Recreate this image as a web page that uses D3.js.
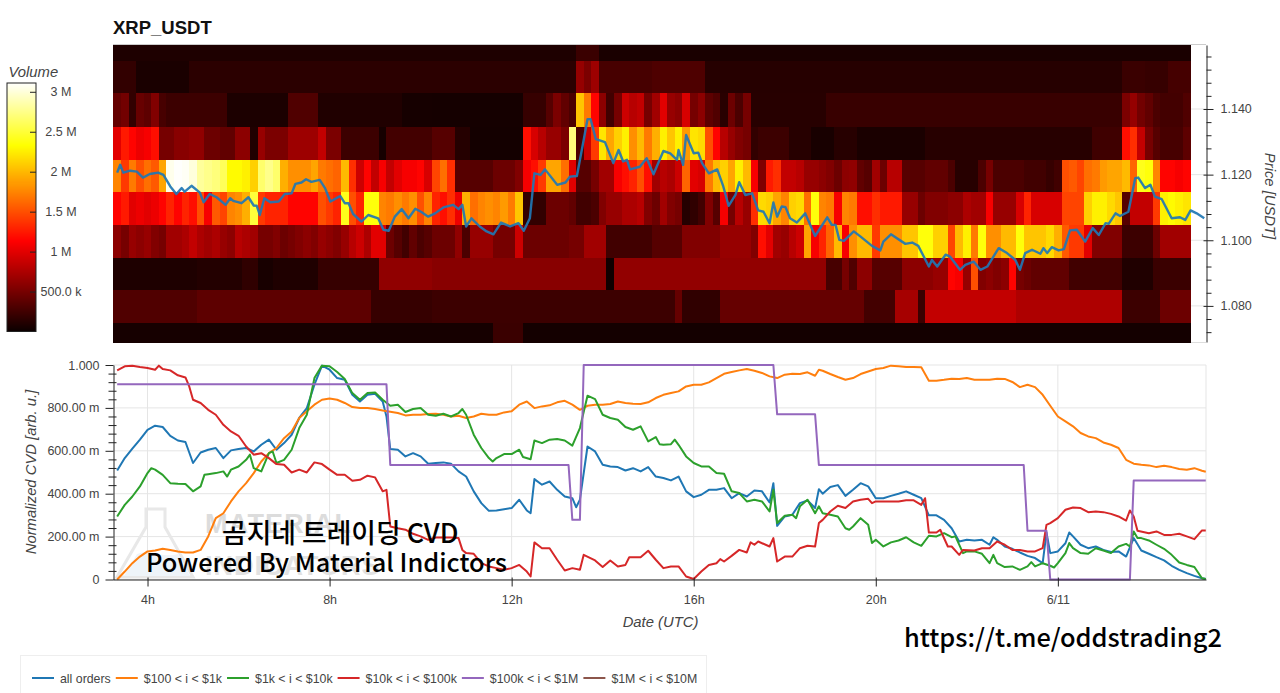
<!DOCTYPE html>
<html>
<head>
<meta charset="utf-8">
<script src="https://d3js.org/d3.v7.min.js"></script>
<style>
html,body{margin:0;padding:0;background:#fff;overflow:hidden}
svg{display:block}
text{font-family:"Liberation Sans",Arial,sans-serif}
.tick text{fill:#444;font-size:12.5px}
.ax-title{fill:#444;font-size:14.8px;font-style:italic}
</style>
</head>
<body>
<svg id="chart" width="1280" height="693"></svg>
<script>
// ---------- data ----------
const title = "XRP_USDT";
const seriesNames = ["all orders","$100 < i < $1k","$1k < i < $10k","$10k < i < $100k","$100k < i < $1M","$1M < i < $10M"];
const seriesColors = ["#1f77b4","#ff7f0e","#2ca02c","#d62728","#9467bd","#8c564b"];
const priceTicksMajor = [1.08,1.10,1.12,1.14];
const cvdTicksMajor = [0,200,400,600,800,1000];
const hourTicks = [4,8,12,16,20,24];
const volumeTicks = [500,1000,1500,2000,2500,3000];

// Price bin edges, bottom to top, and the volume profile (in thousands) of each
// bin from the highest price down. Entries are a single 10-minute column or [columns, volume].
const priceEdges = [1.0690,1.0748,1.0847,1.0947,1.1047,1.1146,1.1245,1.1346,1.1448,1.1547,1.1595];
const volTop0 = [[61,90],[3,220],[78,70]];
const volTop1 = [[3,180],[7,70],[51,150],640,520,680,[7,280],[7,310],[55,125],[3,220],[3,200],[3,270]];
const volTop2 = [420,480,180,430,380,550,280,[8,230],[8,80],[4,320],[11,100],[4,50],[12,45],[3,200],350,520,400,300,2050,1700,1150,600,250,500,900,800,850,500,700,1000,650,600,950,500,600,380,320,140,450,300,500,[10,130],[39,210],520,640,480,400,300,[3,260],320];
const volTop3 = [1000,1250,1150,1050,1100,1200,[2,500],[2,580],[2,620],[2,450],[2,400],[2,600],100,650,[3,520],[4,680],850,[2,520],[5,230],50,[6,260],[3,350],[2,120],[7,40],1200,950,800,650,650,520,2700,300,900,1400,2200,1900,2100,2250,1800,2000,1700,1950,2250,2050,2250,1850,2200,2150,1500,1150,800,650,550,500,180,[4,230],[3,130],[3,60],[3,130],[9,70],[22,130],[4,240],1200,1350,850,500,350,[3,280],380];
const volMid4 = [1750,1400,1700,1500,1650,1550,1900,3050,3100,3080,3000,2800,2750,2700,2600,2300,2300,2250,2100,2650,2750,2650,1950,1800,1800,1800,1900,1700,1650,1600,2000,1350,900,1150,850,1100,850,1000,1100,1100,1150,950,1450,1650,1350,[5,350],[3,450],550,1100,1200,1400,1900,1900,1650,1000,350,350,500,700,700,1100,1200,1300,1500,1200,700,800,750,900,1600,1000,950,1700,2000,2100,1900,2250,2000,1100,550,1250,1350,850,850,800,650,650,600,550,450,600,620,400,350,700,450,800,800,350,350,350,400,400,400,300,130,130,130,300,500,300,300,300,300,250,250,250,200,250,1500,1550,1450,1650,1700,1850,1900,1900,2000,1600,2400,2350,1750,1150,1150,1100,1150];
const volMid5 = [1150,1250,1000,1050,1000,1050,1150,1300,1150,1300,1200,1500,1100,1550,1450,1750,1800,1950,2500,1400,1300,1300,1300,1150,1150,1150,1150,1500,1400,1300,2400,1500,1300,2350,2350,1750,1700,1800,1700,1800,1500,1750,1300,1200,1350,1050,1950,1650,1750,1800,1750,1850,1700,2050,180,180,180,450,450,450,400,250,250,300,550,650,650,750,750,800,550,450,700,550,500,120,170,250,550,350,1100,500,800,650,1350,2150,2100,1900,1750,2100,2150,1650,2350,1750,1700,1100,1750,1700,1200,1200,1350,1250,1250,1250,650,650,450,550,550,550,600,600,750,700,700,1100,650,650,650,950,1300,950,950,950,950,1450,1450,1450,2100,2250,2250,2150,2050,350,850,850,850,1400,2250,2300,2250,2200];
const volMid6 = [600,500,650,600,650,550,500,700,700,750,850,750,700,750,650,600,800,750,700,500,500,550,450,500,550,600,550,650,600,550,650,800,900,750,1000,1000,450,350,250,400,300,350,[3,450],620,300,[3,650],[3,500],900,[6,450],[2,500],[3,700],[6,250],[4,350],[5,550],[4,650],550,1200,1000,700,650,800,900,1900,1100,1300,1600,2000,1100,1800,2000,2000,1400,1800,1800,1800,2050,2050,2350,2350,2100,2100,1450,2000,2250,1700,2350,1800,1800,2000,2000,2350,2050,2050,2050,2150,1950,1550,1400,1400,1000,[4,550],[4,230],450,[4,700]];
const volLow7 = [[11,90],[6,110],[2,170],[2,60],[6,95],[8,200],[7,620],[23,580],20,[28,630],280,280,500,320,600,600,350,350,350,350,600,600,600,600,650,650,1150,1100,650,1500,550,600,550,600,1150,500,450,[5,400],[7,250],[4,100],[5,220]];
const volLow8 = [[11,320],[23,380],[8,200],[32,230],420,[5,170],[18,420],420,[4,260],[3,720],230,[12,850],[14,760],[5,230],[4,450]];
const volBottom9 = [[50,50],[4,220],[88,40]];
const volumeRows = [volTop0,volTop1,volTop2,volTop3,volMid4,volMid5,volMid6,volLow7,volLow8,volBottom9];

// Price, as [minute of 10 June UTC, USDT]
const price = [[200,1.1206],[204,1.1230],[208,1.1206],[217,1.1212],[226,1.1209],[234,1.1191],[243,1.1202],[254,1.1206],[261,1.1199],[270,1.1164],[278,1.1141],[285,1.1159],[289,1.1148],[298,1.1166],[309,1.1145],[314,1.1116],[322,1.1141],[331,1.1131],[343,1.1108],[349,1.1128],[353,1.1120],[364,1.1113],[373,1.1131],[380,1.1106],[384,1.1105],[388,1.1077],[394,1.1128],[402,1.1116],[413,1.1118],[421,1.1141],[430,1.1143],[435,1.1172],[443,1.1176],[449,1.1186],[456,1.1178],[467,1.1184],[474,1.1159],[481,1.1118],[485,1.1123],[494,1.1135],[500,1.1113],[505,1.1113],[511,1.1080],[522,1.1057],[531,1.1077],[544,1.1067],[551,1.1032],[558,1.1029],[566,1.1072],[575,1.1095],[584,1.1067],[593,1.1096],[601,1.1086],[610,1.1072],[619,1.1082],[630,1.1100],[643,1.1108],[650,1.1095],[655,1.1108],[660,1.1042],[667,1.1067],[678,1.1042],[687,1.1027],[696,1.1018],[706,1.1054],[718,1.1042],[729,1.1052],[736,1.1029],[744,1.1067],[750,1.1204],[758,1.1199],[764,1.1216],[780,1.1169],[791,1.1176],[797,1.1194],[806,1.1196],[815,1.1306],[820,1.1369],[824,1.1369],[831,1.1308],[843,1.1299],[854,1.1235],[861,1.1275],[867,1.1240],[872,1.1245],[876,1.1216],[889,1.1224],[898,1.1250],[907,1.1201],[920,1.1272],[929,1.1265],[938,1.1245],[940,1.1275],[946,1.1230],[950,1.1321],[960,1.1265],[966,1.1267],[971,1.1235],[980,1.1204],[991,1.1216],[999,1.1164],[1006,1.1105],[1015,1.1138],[1020,1.1177],[1028,1.1138],[1037,1.1143],[1045,1.1091],[1052,1.1087],[1060,1.1052],[1065,1.1115],[1070,1.1072],[1076,1.1103],[1081,1.1101],[1087,1.1067],[1096,1.1054],[1107,1.1082],[1120,1.1013],[1136,1.1070],[1142,1.1047],[1147,1.1047],[1152,1.1001],[1158,1.0998],[1171,1.1027],[1180,1.1011],[1195,1.0983],[1206,1.0969],[1210,1.0996],[1220,1.1018],[1239,1.0989],[1248,1.0993],[1256,1.0983],[1270,1.0920],[1274,1.0940],[1281,1.0920],[1292,1.0956],[1298,1.0950],[1311,1.0910],[1318,1.0925],[1329,1.0935],[1338,1.0910],[1347,1.0920],[1362,1.0976],[1373,1.0961],[1384,1.0940],[1390,1.0910],[1397,1.0961],[1406,1.0971],[1417,1.0959],[1421,1.0976],[1426,1.0961],[1432,1.0979],[1441,1.0969],[1448,1.0973],[1456,1.1030],[1465,1.1032],[1476,1.0996],[1486,1.1037],[1494,1.1016],[1503,1.1052],[1507,1.1050],[1516,1.1082],[1522,1.1074],[1533,1.1087],[1542,1.1189],[1546,1.1191],[1555,1.1159],[1562,1.1169],[1568,1.1133],[1577,1.1125],[1590,1.1067],[1601,1.1070],[1608,1.1062],[1615,1.1091],[1623,1.1082],[1633,1.1067]];

// Normalized CVD per order size, as [minute, milli-units]
const cvdAll = [[200,508],[210,566],[220,610],[230,652],[240,698],[250,717],[260,711],[270,670],[280,648],[290,641],[300,543],[310,592],[320,605],[330,613],[340,566],[350,602],[360,608],[370,613],[380,597],[390,628],[400,652],[410,605],[420,636],[430,675],[440,753],[450,799],[460,908],[470,997],[480,978],[490,939],[500,931],[510,861],[520,830],[530,861],[540,866],[550,830],[555,760],[560,608],[570,605],[580,574],[590,589],[600,574],[610,540],[620,543],[630,546],[640,540],[650,504],[660,480],[670,411],[680,356],[690,320],[700,322],[710,328],[720,333],[730,372],[740,322],[745,309],[750,468],[760,442],[770,457],[780,418],[790,387],[800,379],[805,337],[810,372],[820,620],[830,597],[840,535],[850,527],[860,524],[870,508],[880,519],[890,504],[900,524],[910,480],[920,473],[930,462],[940,480],[950,411],[960,384],[970,395],[980,418],[990,418],[1000,426],[1010,379],[1020,403],[1030,387],[1040,415],[1050,411],[1060,359],[1065,449],[1070,250],[1080,294],[1090,302],[1100,356],[1110,369],[1120,333],[1125,421],[1130,400],[1140,431],[1150,440],[1160,390],[1170,418],[1180,449],[1190,434],[1200,379],[1210,379],[1220,390],[1230,400],[1240,411],[1250,395],[1260,379],[1270,299],[1280,299],[1290,278],[1300,239],[1310,177],[1320,185],[1330,182],[1340,185],[1350,162],[1355,197],[1360,185],[1370,154],[1380,143],[1390,126],[1400,110],[1410,100],[1420,76],[1425,219],[1430,123],[1440,131],[1450,169],[1455,219],[1460,201],[1470,162],[1480,146],[1490,154],[1500,138],[1510,128],[1520,131],[1530,107],[1540,193],[1550,135],[1560,120],[1570,104],[1580,89],[1590,64],[1600,45],[1610,30],[1620,17],[1630,6],[1635,2]];
const cvd100 = [[200,0],[210,37],[220,76],[230,107],[240,131],[250,135],[260,143],[270,138],[280,131],[290,126],[300,126],[310,138],[320,201],[330,286],[340,309],[350,364],[360,411],[370,449],[380,496],[390,550],[400,589],[410,613],[420,659],[430,690],[440,753],[450,784],[460,815],[470,838],[480,844],[490,838],[500,823],[510,804],[520,799],[530,799],[540,795],[550,788],[560,782],[570,776],[580,765],[590,768],[600,768],[610,771],[620,773],[630,768],[640,760],[650,763],[660,753],[670,760],[680,773],[690,768],[700,768],[710,779],[720,784],[730,815],[740,830],[750,799],[760,807],[770,812],[780,826],[790,833],[800,815],[810,791],[820,810],[830,815],[840,815],[850,818],[860,830],[870,823],[880,819],[890,818],[900,826],[910,846],[920,861],[930,869],[940,877],[950,900],[960,908],[970,908],[980,919],[990,939],[1000,959],[1010,967],[1020,975],[1030,981],[1040,973],[1050,963],[1060,947],[1070,939],[1080,955],[1090,959],[1100,958],[1110,966],[1120,950],[1125,978],[1130,973],[1140,958],[1150,944],[1160,931],[1170,939],[1180,958],[1190,970],[1200,981],[1210,986],[1220,997],[1230,994],[1240,991],[1250,991],[1260,989],[1270,927],[1280,927],[1290,931],[1300,936],[1310,935],[1320,939],[1330,931],[1340,931],[1350,931],[1360,936],[1370,935],[1380,921],[1390,897],[1400,908],[1410,897],[1420,861],[1430,810],[1440,760],[1450,737],[1460,714],[1470,683],[1480,667],[1490,659],[1500,639],[1510,628],[1520,613],[1530,558],[1540,540],[1550,535],[1560,532],[1570,524],[1580,530],[1590,524],[1600,515],[1610,512],[1620,519],[1630,507],[1635,502]];
const cvd1k = [[200,294],[210,348],[220,387],[230,434],[240,496],[245,519],[250,512],[260,488],[270,449],[280,446],[290,445],[300,411],[310,434],[315,488],[320,491],[330,496],[340,504],[345,480],[350,512],[360,527],[370,558],[375,582],[380,519],[390,504],[400,589],[405,597],[410,543],[420,558],[430,605],[440,706],[450,768],[460,939],[470,997],[480,994],[490,967],[500,935],[510,869],[520,838],[530,869],[540,872],[550,838],[560,810],[570,815],[580,781],[590,795],[600,799],[610,768],[620,763],[630,773],[640,760],[650,776],[655,795],[660,768],[670,675],[680,613],[690,566],[695,550],[700,566],[710,585],[720,585],[730,605],[735,571],[745,561],[750,648],[760,636],[770,652],[780,655],[790,648],[800,624],[810,706],[820,857],[830,841],[840,768],[850,753],[860,745],[870,711],[880,698],[890,714],[900,644],[910,664],[915,631],[920,628],[930,631],[935,652],[940,628],[950,574],[960,543],[970,527],[980,527],[990,496],[1000,493],[1010,411],[1020,403],[1030,364],[1040,372],[1050,364],[1060,317],[1065,418],[1070,263],[1080,297],[1090,302],[1095,286],[1100,341],[1110,372],[1120,309],[1125,341],[1130,309],[1140,302],[1150,294],[1160,239],[1165,232],[1170,247],[1180,286],[1190,255],[1195,170],[1200,185],[1210,154],[1220,173],[1230,182],[1240,197],[1250,173],[1260,157],[1270,204],[1280,201],[1290,216],[1300,197],[1305,201],[1315,123],[1320,131],[1330,131],[1340,120],[1350,76],[1355,115],[1360,76],[1370,58],[1380,61],[1390,45],[1400,61],[1405,81],[1410,61],[1420,76],[1430,64],[1435,56],[1440,76],[1450,123],[1455,170],[1460,146],[1470,123],[1480,120],[1490,146],[1500,135],[1510,123],[1520,154],[1530,166],[1535,154],[1540,224],[1545,193],[1550,193],[1560,182],[1570,162],[1580,143],[1590,115],[1600,79],[1610,68],[1620,58],[1630,6],[1635,2]];
const cvd10k = [[200,975],[210,994],[220,997],[230,991],[240,986],[250,978],[255,997],[260,981],[270,975],[280,952],[290,942],[295,900],[300,838],[310,823],[320,791],[330,768],[340,721],[350,690],[360,670],[370,620],[380,582],[390,589],[400,566],[410,538],[420,535],[430,499],[440,512],[450,499],[460,546],[470,538],[480,512],[490,488],[500,488],[510,460],[520,465],[530,484],[540,476],[550,411],[555,418],[560,247],[570,239],[580,232],[590,213],[600,201],[610,185],[620,196],[630,196],[640,196],[650,193],[655,138],[660,123],[670,120],[680,76],[690,61],[700,53],[710,45],[720,53],[730,68],[740,37],[745,14],[750,173],[760,146],[770,146],[780,92],[790,42],[800,53],[810,45],[815,115],[830,89],[840,58],[850,89],[860,61],[870,68],[875,104],[890,104],[900,134],[910,92],[920,53],[930,61],[940,61],[950,14],[960,2],[970,37],[980,68],[990,76],[995,95],[1000,84],[1010,110],[1020,138],[1030,126],[1035,173],[1040,162],[1045,177],[1060,154],[1065,193],[1070,84],[1080,107],[1090,107],[1100,146],[1110,157],[1120,154],[1125,263],[1130,278],[1140,317],[1150,344],[1160,333],[1170,364],[1180,372],[1190,376],[1195,356],[1200,364],[1210,364],[1220,364],[1230,364],[1240,369],[1250,369],[1260,348],[1265,379],[1270,219],[1280,219],[1285,232],[1295,154],[1300,154],[1310,115],[1315,138],[1330,135],[1340,146],[1350,146],[1360,177],[1370,162],[1380,138],[1390,138],[1400,131],[1410,131],[1420,146],[1425,255],[1430,263],[1440,286],[1450,325],[1460,336],[1470,333],[1480,314],[1490,317],[1500,314],[1510,306],[1520,294],[1530,275],[1535,322],[1540,294],[1545,227],[1560,216],[1570,224],[1580,208],[1590,208],[1600,213],[1610,201],[1620,188],[1630,229],[1635,229]];
const cvd100k = [[200,910],[555,910],[560,534],[795,534],[800,278],[810,278],[815,1000],[1065,1000],[1070,770],[1120,770],[1125,534],[1395,534],[1400,227],[1425,227],[1430,0],[1535,0],[1540,461],[1635,461]];
const cvdSeries = [cvdAll,cvd100,cvd1k,cvd10k,cvd100k];

// ---------- scales ----------
const svg = d3.select("#chart");
const dayStart = Date.UTC(2021,5,10);
const toDate = m => new Date(dayStart + m*60000);
const x = d3.scaleUtc().domain([toDate(194.5),toDate(1635.3)]).range([113,1206]);
const yPrice = d3.scaleLinear().domain([1.0690,1.1595]).range([342,45]);
const yCvd = d3.scaleLinear().domain([0,1000]).range([579.5,365]);
const volMax = 3110;
const yVol = d3.scaleLinear().domain([0,volMax]).range([331.5,83]);
// black-red-yellow-white ramp
const heat = d3.scaleLinear()
  .domain([0,.365*volMax,.746*volMax,volMax])
  .range(["#0b0000","#ff0000","#ffff00","#ffffff"]);

const plotLeft = 113, plotRight = 1206, heatEnd = 1618;

// ---------- heatmap panel ----------
svg.append("text").attr("x",113).attr("y",34).attr("font-size",18.5).attr("font-weight","bold").attr("fill","#111").text(title);

const gridTop = svg.append("g").attr("stroke","#e5e5e5");
gridTop.selectAll("line").data(priceTicksMajor).join("line")
  .attr("x1",plotLeft).attr("x2",plotRight)
  .attr("y1",d=>yPrice(d)).attr("y2",d=>yPrice(d));
gridTop.append("line").attr("x1",plotLeft).attr("x2",plotRight).attr("y1",44.5).attr("y2",44.5).attr("stroke","#ccc");
gridTop.append("line").attr("x1",plotLeft).attr("x2",plotRight).attr("y1",342.5).attr("y2",342.5).attr("stroke","#ddd");

const expand = row => row.flatMap(d => Array.isArray(d) ? d3.range(d[0]).map(()=>d[1]) : [d]);
const heatCells = volumeRows.flatMap((row,r) => expand(row).map((v,c) => ({
  t0:195+10*c, t1:Math.min(195+10*(c+1),heatEnd),
  p1:priceEdges[10-r], p0:priceEdges[9-r], v
})));
svg.append("g").attr("shape-rendering","crispEdges").selectAll("rect").data(heatCells).join("rect")
  .attr("x",d=>x(toDate(d.t0)))
  .attr("width",d=>x(toDate(d.t1))-x(toDate(d.t0))+.5)
  .attr("y",d=>yPrice(d.p1))
  .attr("height",d=>yPrice(d.p0)-yPrice(d.p1)+.5)
  .attr("fill",d=>heat(d.v));

const lineOf = yScale => d3.line().x(d=>x(toDate(d[0]))).y(d=>yScale(d[1])).curve(d3.curveLinear);
svg.append("path").datum(price).attr("d",lineOf(yPrice))
  .attr("fill","none").attr("stroke",seriesColors[0]).attr("stroke-width",2.4).attr("stroke-linejoin","round").attr("opacity",.92);

// price axis, right side
const minorPrice = d3.range(1.072,1.1561,.004).filter(v=>!priceTicksMajor.some(t=>Math.abs(t-v)<1e-6));
const axP = svg.append("g").attr("transform",`translate(${plotRight+.5},0)`)
  .call(d3.axisRight(yPrice).tickValues(priceTicksMajor).tickFormat(d3.format(".3f")).tickSize(7).tickSizeOuter(0).tickPadding(7));
axP.selectAll(".tick line").attr("x1",-3);
axP.select(".domain").attr("stroke","#222");
axP.selectAll(".tick line").attr("stroke","#222");
const axPm = svg.append("g").attr("transform",`translate(${plotRight+.5},0)`)
  .call(d3.axisRight(yPrice).tickValues(minorPrice).tickFormat("").tickSize(5).tickSizeOuter(0));
axPm.select(".domain").remove();
axPm.selectAll(".tick line").attr("stroke","#222");
svg.append("text").attr("class","ax-title").attr("transform","translate(1265,196) rotate(90)").attr("text-anchor","middle").text("Price [USDT]");

// ---------- colour bar ----------
const barSteps = d3.range(0,volMax,volMax/248);
svg.append("g").attr("shape-rendering","crispEdges").selectAll("rect").data(barSteps).join("rect")
  .attr("x",7).attr("width",29)
  .attr("y",d=>yVol(d)-1.2).attr("height",1.5)
  .attr("fill",d=>heat(d));
svg.append("rect").attr("x",7).attr("y",83).attr("width",29).attr("height",248.5).attr("fill","none").attr("stroke","#222");
const fmtVol = v => v<1000 ? `${v.toFixed(1)} k` : `${v/1000} M`;
const axV = svg.append("g").attr("transform","translate(36,0)")
  .call(d3.axisLeft(yVol).tickValues(volumeTicks).tickFormat(fmtVol).tickSize(6).tickSizeOuter(0));
axV.select(".domain").remove();
axV.selectAll(".tick line").attr("stroke","#222");
axV.selectAll(".tick text").attr("x",25).attr("text-anchor","middle");
svg.append("text").attr("class","ax-title").attr("x",8.5).attr("y",76.5).text("Volume");

// ---------- CVD panel ----------
const hourDates = hourTicks.map(h=>toDate(h*60));
const gridLow = svg.append("g").attr("stroke","#e5e5e5");
gridLow.selectAll(".h").data(cvdTicksMajor).join("line").attr("class","h")
  .attr("x1",plotLeft).attr("x2",plotRight).attr("y1",d=>yCvd(d)).attr("y2",d=>yCvd(d));
gridLow.selectAll(".v").data(hourDates).join("line").attr("class","v")
  .attr("y1",365).attr("y2",579.5).attr("x1",d=>x(d)).attr("x2",d=>x(d));
gridLow.append("line").attr("x1",plotRight).attr("x2",plotRight).attr("y1",365).attr("y2",579.5);

// faint brand mark behind the curves
const mark = svg.append("g");
mark.append("path").attr("d","M146 509h19v18l28 50h-76l29-50z").attr("fill","none").attr("stroke","#e8e8e8").attr("stroke-width",3);
mark.append("path").attr("d","M124 576l13-22c15-6 26 5 41 0l12 22z").attr("fill","#eef4f9");
mark.append("text").attr("x",205).attr("y",533).attr("font-size",27).attr("font-weight","bold").attr("letter-spacing",1.2).attr("fill","#dcdcdc").text("MATERIAL");
mark.append("text").attr("x",205).attr("y",575).attr("font-size",27).attr("font-weight","bold").attr("letter-spacing",1).attr("fill","#e2e2e2").text("INDICATORS");

const curves = svg.append("g").attr("fill","none").attr("stroke-width",2).attr("stroke-linejoin","round");
curves.selectAll("path").data(cvdSeries).join("path")
  .attr("d",lineOf(yCvd)).attr("stroke",(d,i)=>seriesColors[i]);

// CVD axes
const fmtCvd = v => v===0 ? "0" : v===1000 ? "1.000" : `${v.toFixed(2)} m`;
const axL = svg.append("g").attr("transform",`translate(${plotLeft+.5},0)`)
  .call(d3.axisLeft(yCvd).tickValues(cvdTicksMajor).tickFormat(fmtCvd).tickSize(8).tickSizeOuter(0).tickPadding(6));
axL.select(".domain").attr("stroke","#222");
axL.selectAll(".tick line").attr("stroke","#222");
const axLm = svg.append("g").attr("transform",`translate(${plotLeft+.5},0)`)
  .call(d3.axisLeft(yCvd).tickValues(d3.range(0,1001,40).filter(v=>v%200)).tickFormat("").tickSize(5).tickSizeOuter(0));
axLm.select(".domain").remove();
axLm.selectAll(".tick line").attr("stroke","#222");
axLm.selectAll(".tick line").attr("x2",3).attr("x1",-5);

const fmtHour = d => d.getUTCHours()===0 ? `${d.getUTCMonth()+1}/${d.getUTCDate()}` : `${d.getUTCHours()}h`;
const axB = svg.append("g").attr("transform","translate(0,579.5)")
  .call(d3.axisBottom(x).tickValues(hourDates).tickFormat(fmtHour).tickSize(7).tickSizeOuter(0).tickPadding(9));
axB.select(".domain").attr("stroke","#222");
axB.selectAll(".tick line").attr("stroke","#222").attr("y1",-2);
svg.append("text").attr("class","ax-title").attr("x",660.5).attr("y",627).attr("text-anchor","middle").text("Date (UTC)");
svg.append("text").attr("class","ax-title").attr("transform","translate(36,472) rotate(-90)").attr("text-anchor","middle").text("Normalized CVD [arb. u.]");

// ---------- overlaid captions ----------
const captionFont = '"Noto Sans CJK KR","Noto Sans",sans-serif';
const cap = (xp,yp,s,size) => svg.append("text").attr("x",xp).attr("y",yp).attr("font-size",size).attr("font-weight",500).attr("fill","#000").style("font-family",captionFont).text(s);
cap(222,543,"곰지네 트레이딩 CVD",26.8);
cap(146,572,"Powered By Material Indictors",25.4);
cap(904,647,"https://t.me/oddstrading2",25.4);

// ---------- legend ----------
svg.append("rect").attr("x",20.5).attr("y",655.5).attr("width",686).attr("height",60).attr("fill","#fff").attr("stroke","#eeeeee");
let lx = 32;
seriesNames.forEach((name,i)=>{
  svg.append("line").attr("x1",lx).attr("x2",lx+22).attr("y1",678).attr("y2",678).attr("stroke",seriesColors[i]).attr("stroke-width",2);
  const t = svg.append("text").attr("x",lx+28).attr("y",682.5).attr("font-size",12.35).attr("fill","#444").text(name);
  lx += 28 + t.node().getComputedTextLength() + 5;
});
</script>
</body>
</html>
